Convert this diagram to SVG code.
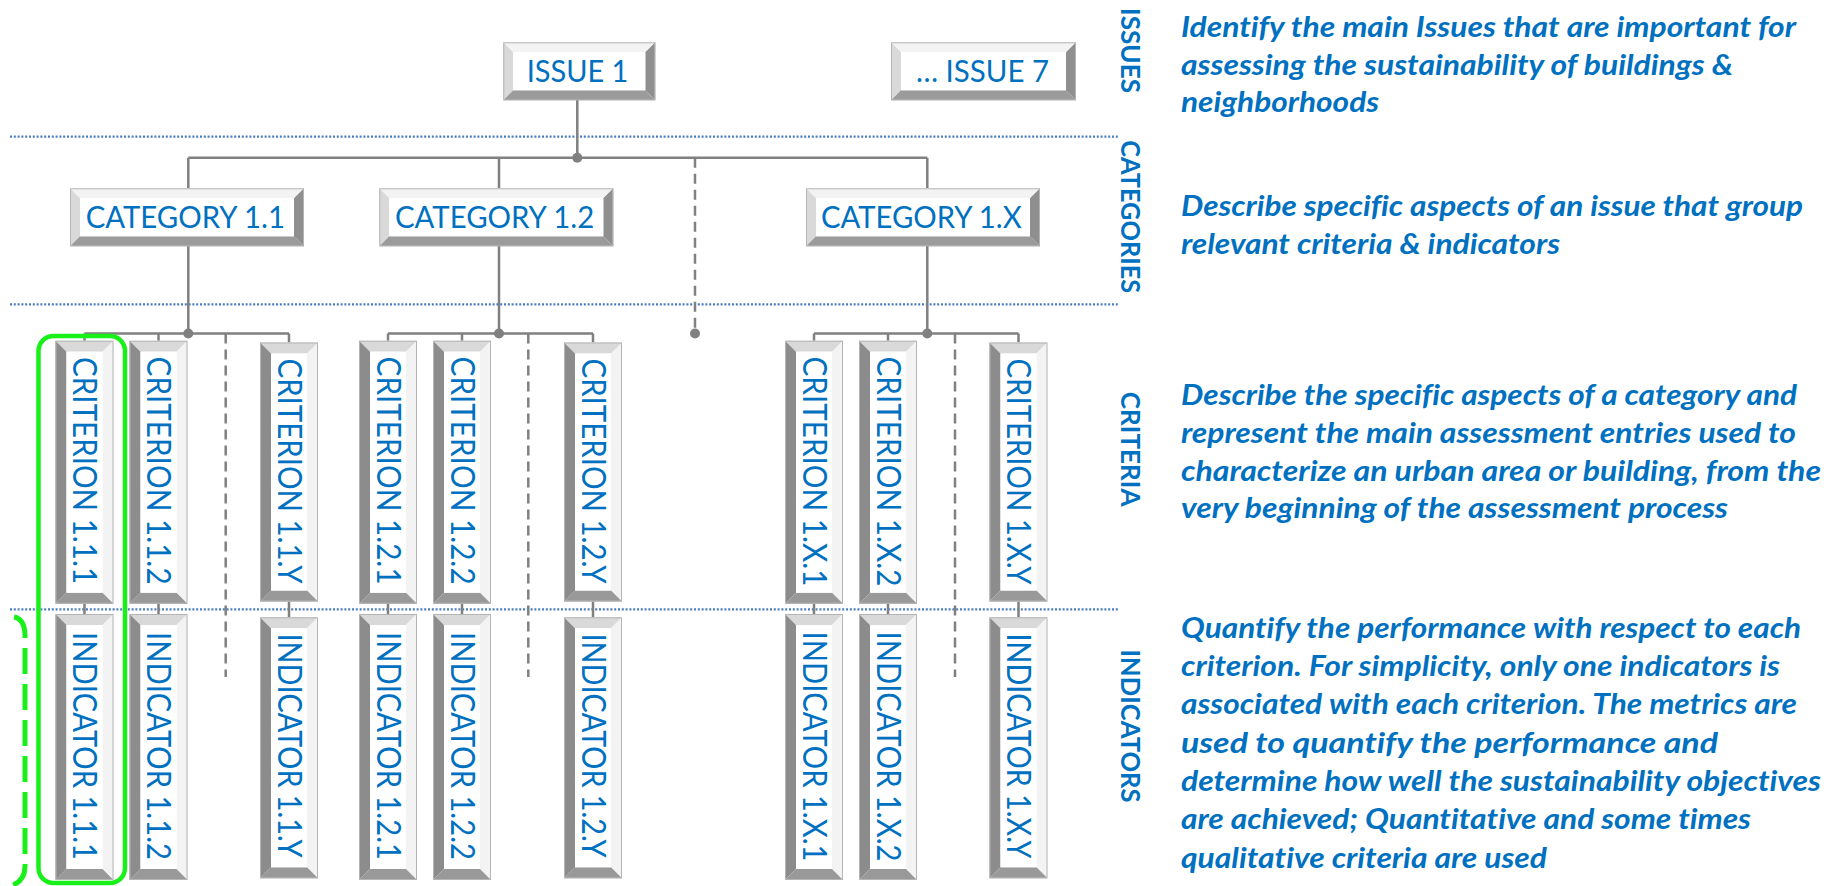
<svg xmlns="http://www.w3.org/2000/svg" width="1829" height="886" viewBox="0 0 1829 886">
<style>
text{font-variant-ligatures:none}
.bt{fill:#f3f3f3}.bl{fill:#d9d9d9}.br{fill:#8f8f8f}.bb{fill:#9b9b9b}.vl{fill:#8c8c8c}.vb{fill:#999999}
.in{fill:#ffffff}.ol{fill:none;stroke:#b4b4b4;stroke-width:1}
.lbl{font-family:Lato,"Liberation Sans",sans-serif;font-size:30.5px;fill:#0070C0;text-anchor:middle}
.vlbl{font-family:Lato,"Liberation Sans",sans-serif;font-size:32px;fill:#0070C0;text-anchor:middle}
.side{font-family:Lato,"Liberation Sans",sans-serif;font-weight:bold;font-size:27px;fill:#0070C0;text-anchor:middle}
.desc{font-family:Lato,"Liberation Sans",sans-serif;font-weight:bold;font-style:italic;font-size:28px;fill:#0070C0}
.sep{fill:none;stroke:#4a7cc4;stroke-width:2.3;stroke-dasharray:2 1.8}
.con{fill:none;stroke:#808080;stroke-width:2.5}
.dash{fill:none;stroke:#808080;stroke-width:2.5;stroke-dasharray:10 6}
.dot{fill:#808080}
</style>
<defs>
<g id="hI1">
<polygon class="bt" points="0,0 152,0 142,10 10,10"/><polygon class="bl" points="0,0 10,10 10,48 0,58"/>
<polygon class="br" points="152,0 152,58 142,48 142,10"/><polygon class="bb" points="0,58 10,48 142,48 152,58"/>
<rect class="in" x="10" y="10" width="132" height="38"/><rect class="ol" x="0.5" y="0.5" width="151" height="57"/>
</g>
<g id="hI7">
<polygon class="bt" points="0,0 185,0 175,10 10,10"/><polygon class="bl" points="0,0 10,10 10,48 0,58"/>
<polygon class="br" points="185,0 185,58 175,48 175,10"/><polygon class="bb" points="0,58 10,48 175,48 185,58"/>
<rect class="in" x="10" y="10" width="165" height="38"/><rect class="ol" x="0.5" y="0.5" width="184" height="57"/>
</g>
<g id="hCat">
<polygon class="bt" points="0,0 234,0 224,10 10,10"/><polygon class="bl" points="0,0 10,10 10,48 0,58"/>
<polygon class="br" points="234,0 234,58 224,48 224,10"/><polygon class="bb" points="0,58 10,48 224,48 234,58"/>
<rect class="in" x="10" y="10" width="214" height="38"/><rect class="ol" x="0.5" y="0.5" width="233" height="57"/>
</g>
<g id="vC">
<polygon class="bl" points="0,0 58,0 47,11 11,11"/><polygon class="vl" points="0,0 11,11 11,252 0,263"/>
<polygon class="bt" points="58,0 58,263 47,252 47,11"/><polygon class="vb" points="0,263 11,252 47,252 58,263"/>
<rect class="in" x="11" y="11" width="36" height="241"/><rect class="ol" x="0.5" y="0.5" width="57" height="262"/>
</g>
<g id="vCY">
<polygon class="bl" points="0,0 58,0 47,11 11,11"/><polygon class="vl" points="0,0 11,11 11,248 0,259"/>
<polygon class="bt" points="58,0 58,259 47,248 47,11"/><polygon class="vb" points="0,259 11,248 47,248 58,259"/>
<rect class="in" x="11" y="11" width="36" height="237"/><rect class="ol" x="0.5" y="0.5" width="57" height="258"/>
</g>
<g id="vI">
<polygon class="bl" points="0,0 58,0 47,11 11,11"/><polygon class="vl" points="0,0 11,11 11,255 0,266"/>
<polygon class="bt" points="58,0 58,266 47,255 47,11"/><polygon class="vb" points="0,266 11,255 47,255 58,266"/>
<rect class="in" x="11" y="11" width="36" height="244"/><rect class="ol" x="0.5" y="0.5" width="57" height="265"/>
</g>
<g id="vIY">
<polygon class="bl" points="0,0 58,0 47,11 11,11"/><polygon class="vl" points="0,0 11,11 11,250 0,261"/>
<polygon class="bt" points="58,0 58,261 47,250 47,11"/><polygon class="vb" points="0,261 11,250 47,250 58,261"/>
<rect class="in" x="11" y="11" width="36" height="239"/><rect class="ol" x="0.5" y="0.5" width="57" height="260"/>
</g>
</defs>
<rect width="1829" height="886" fill="#ffffff"/>

<g id="separators">
<line class="sep" x1="10" y1="136.7" x2="1118" y2="136.7"/>
<line class="sep" x1="10" y1="304.3" x2="1118" y2="304.3"/>
<line class="sep" x1="10" y1="609.3" x2="1118" y2="609.3"/>
</g>

<g id="connectors">
<path class="con" d="M577.3,100 V157.7 M188.3,157.7 H927.3 M188.3,157.7 V188 M499,157.7 V188 M927.3,157.7 V188"/>
<path class="con" d="M188.3,246 V333.5 M84.5,333.5 H289 M84.5,333.5 V340.7 M158.5,333.5 V340.7 M289,333.5 V342.5"/>
<path class="con" d="M499,246 V333.5 M388,333.5 H593 M388,333.5 V340.7 M462,333.5 V340.7 M593,333.5 V342.5"/>
<path class="con" d="M927.3,246 V333.5 M814,333.5 H1018.5 M814,333.5 V340.7 M888,333.5 V340.7 M1018.5,333.5 V342.5"/>
<path class="con" d="M84.5,603.7 V614 M158.5,603.7 V614 M289,601.5 V617.3 M388,603.7 V614 M462,603.7 V614 M593,601.5 V617.3 M814,603.7 V614 M888,603.7 V614 M1018.5,601.5 V617.3"/>
<path class="dash" d="M695,157.7 V333.5 M225.7,333.5 V677 M528.3,333.5 V677 M955,333.5 V677"/>
<circle class="dot" cx="577.3" cy="157.7" r="5"/>
<circle class="dot" cx="695" cy="333.5" r="5"/>
<circle class="dot" cx="188.3" cy="333.5" r="5"/>
<circle class="dot" cx="499" cy="333.5" r="5"/>
<circle class="dot" cx="927.3" cy="333.5" r="5"/>
</g>

<g id="issue-1"><use href="#hI1" x="503.3" y="42.3"/><text class="lbl" x="577.5" y="82.3" textLength="101.6" lengthAdjust="spacingAndGlyphs">ISSUE 1</text></g>
<g id="issue-7"><use href="#hI7" x="891" y="42.3"/><text class="lbl" x="982.5" y="82.3" textLength="133" lengthAdjust="spacingAndGlyphs">… ISSUE 7</text></g>

<g id="category-1-1"><use href="#hCat" x="70" y="188.3"/><text class="lbl" x="185.3" y="228.3" textLength="199.3" lengthAdjust="spacingAndGlyphs">CATEGORY 1.1</text></g>
<g id="category-1-2"><use href="#hCat" x="379.3" y="188.3"/><text class="lbl" x="494.6" y="228.3" textLength="199.3" lengthAdjust="spacingAndGlyphs">CATEGORY 1.2</text></g>
<g id="category-1-x"><use href="#hCat" x="806" y="188.3"/><text class="lbl" x="921.3" y="228.3" textLength="200.7" lengthAdjust="spacingAndGlyphs">CATEGORY 1.X</text></g>

<g id="criterion-1-1-1"><use href="#vC" x="55.5" y="340.7"/><text class="vlbl" transform="translate(84.5,470.6) rotate(90)" y="11.5" textLength="227" lengthAdjust="spacingAndGlyphs">CRITERION 1.1.1</text></g>
<g id="criterion-1-1-2"><use href="#vC" x="129.5" y="340.7"/><text class="vlbl" transform="translate(158.5,470.6) rotate(90)" y="11.5" textLength="228" lengthAdjust="spacingAndGlyphs">CRITERION 1.1.2</text></g>
<g id="criterion-1-1-y"><use href="#vCY" x="260" y="342.5"/><text class="vlbl" transform="translate(289,471) rotate(90)" y="11.5" textLength="225" lengthAdjust="spacingAndGlyphs">CRITERION 1.1.Y</text></g>
<g id="criterion-1-2-1"><use href="#vC" x="359" y="340.7"/><text class="vlbl" transform="translate(388,470.6) rotate(90)" y="11.5" textLength="228" lengthAdjust="spacingAndGlyphs">CRITERION 1.2.1</text></g>
<g id="criterion-1-2-2"><use href="#vC" x="433" y="340.7"/><text class="vlbl" transform="translate(462,470.6) rotate(90)" y="11.5" textLength="228" lengthAdjust="spacingAndGlyphs">CRITERION 1.2.2</text></g>
<g id="criterion-1-2-y"><use href="#vCY" x="564" y="342.5"/><text class="vlbl" transform="translate(593,471) rotate(90)" y="11.5" textLength="225" lengthAdjust="spacingAndGlyphs">CRITERION 1.2.Y</text></g>
<g id="criterion-1-x-1"><use href="#vC" x="785" y="340.7"/><text class="vlbl" transform="translate(814,471.5) rotate(90)" y="11.5" textLength="230" lengthAdjust="spacingAndGlyphs">CRITERION 1.X.1</text></g>
<g id="criterion-1-x-2"><use href="#vC" x="859" y="340.7"/><text class="vlbl" transform="translate(888,471.5) rotate(90)" y="11.5" textLength="230" lengthAdjust="spacingAndGlyphs">CRITERION 1.X.2</text></g>
<g id="criterion-1-x-y"><use href="#vCY" x="989.5" y="342.5"/><text class="vlbl" transform="translate(1018.5,471.5) rotate(90)" y="11.5" textLength="226" lengthAdjust="spacingAndGlyphs">CRITERION 1.X.Y</text></g>

<g id="indicator-1-1-1"><use href="#vI" x="55.5" y="614"/><text class="vlbl" transform="translate(84.5,746) rotate(90)" y="11.5" textLength="228" lengthAdjust="spacingAndGlyphs">INDICATOR 1.1.1</text></g>
<g id="indicator-1-1-2"><use href="#vI" x="129.5" y="614"/><text class="vlbl" transform="translate(158.5,746) rotate(90)" y="11.5" textLength="228" lengthAdjust="spacingAndGlyphs">INDICATOR 1.1.2</text></g>
<g id="indicator-1-1-y"><use href="#vIY" x="260" y="617.3"/><text class="vlbl" transform="translate(289,745.5) rotate(90)" y="11.5" textLength="224" lengthAdjust="spacingAndGlyphs">INDICATOR 1.1.Y</text></g>
<g id="indicator-1-2-1"><use href="#vI" x="359" y="614"/><text class="vlbl" transform="translate(388,746) rotate(90)" y="11.5" textLength="228" lengthAdjust="spacingAndGlyphs">INDICATOR 1.2.1</text></g>
<g id="indicator-1-2-2"><use href="#vI" x="433" y="614"/><text class="vlbl" transform="translate(462,746) rotate(90)" y="11.5" textLength="228" lengthAdjust="spacingAndGlyphs">INDICATOR 1.2.2</text></g>
<g id="indicator-1-2-y"><use href="#vIY" x="564" y="617.3"/><text class="vlbl" transform="translate(593,745.5) rotate(90)" y="11.5" textLength="224" lengthAdjust="spacingAndGlyphs">INDICATOR 1.2.Y</text></g>
<g id="indicator-1-x-1"><use href="#vI" x="785" y="614"/><text class="vlbl" transform="translate(814,746.5) rotate(90)" y="11.5" textLength="230" lengthAdjust="spacingAndGlyphs">INDICATOR 1.X.1</text></g>
<g id="indicator-1-x-2"><use href="#vI" x="859" y="614"/><text class="vlbl" transform="translate(888,746.5) rotate(90)" y="11.5" textLength="230" lengthAdjust="spacingAndGlyphs">INDICATOR 1.X.2</text></g>
<g id="indicator-1-x-y"><use href="#vIY" x="989.5" y="617.3"/><text class="vlbl" transform="translate(1018.5,746) rotate(90)" y="11.5" textLength="225" lengthAdjust="spacingAndGlyphs">INDICATOR 1.X.Y</text></g>

<g id="highlight">
<rect x="38.5" y="336" width="86.5" height="547" rx="15" fill="none" stroke="#19f019" stroke-width="4.5"/>
<path d="M14,617 Q25,619 25,636 V866 Q25,882 10,886" fill="none" stroke="#19f019" stroke-width="5" stroke-dasharray="26 10"/>
</g>

<g id="level-labels">
<text class="side" transform="translate(1131,50.5) rotate(90)" y="9.7" textLength="85" lengthAdjust="spacingAndGlyphs">ISSUES</text>
<text class="side" transform="translate(1131,216.7) rotate(90)" y="9.7" textLength="153" lengthAdjust="spacingAndGlyphs">CATEGORIES</text>
<text class="side" transform="translate(1131,449.2) rotate(90)" y="9.7" textLength="115" lengthAdjust="spacingAndGlyphs">CRITERIA</text>
<text class="side" transform="translate(1131,726) rotate(90)" y="9.7" textLength="153" lengthAdjust="spacingAndGlyphs">INDICATORS</text>
</g>

<g id="descriptions">
<text class="desc" x="1181" y="36.7" textLength="615" lengthAdjust="spacingAndGlyphs">Identify the main Issues that are important for</text>
<text class="desc" x="1181" y="74.5" textLength="552" lengthAdjust="spacingAndGlyphs">assessing the sustainability of buildings &amp;</text>
<text class="desc" x="1181" y="112.3" textLength="198" lengthAdjust="spacingAndGlyphs">neighborhoods</text>
<text class="desc" x="1181" y="216" textLength="622" lengthAdjust="spacingAndGlyphs">Describe specific aspects of an issue that group</text>
<text class="desc" x="1181" y="253.8" textLength="379" lengthAdjust="spacingAndGlyphs">relevant criteria &amp; indicators</text>
<text class="desc" x="1181" y="405" textLength="616" lengthAdjust="spacingAndGlyphs">Describe the specific aspects of a category and</text>
<text class="desc" x="1181" y="442.8" textLength="615" lengthAdjust="spacingAndGlyphs">represent the main assessment entries used to</text>
<text class="desc" x="1181" y="480.6" textLength="640" lengthAdjust="spacingAndGlyphs">characterize an urban area or building, from the</text>
<text class="desc" x="1181" y="518.4" textLength="547" lengthAdjust="spacingAndGlyphs">very beginning of the assessment process</text>
<text class="desc" x="1181" y="637.7" textLength="620" lengthAdjust="spacingAndGlyphs">Quantify the performance with respect to each</text>
<text class="desc" x="1181" y="676" textLength="599" lengthAdjust="spacingAndGlyphs">criterion. For simplicity, only one indicators is</text>
<text class="desc" x="1181" y="714.3" textLength="616" lengthAdjust="spacingAndGlyphs">associated with each criterion. The metrics are</text>
<text class="desc" x="1181" y="752.6" textLength="537" lengthAdjust="spacingAndGlyphs">used to quantify the performance and</text>
<text class="desc" x="1181" y="790.9" textLength="640" lengthAdjust="spacingAndGlyphs">determine how well the sustainability objectives</text>
<text class="desc" x="1181" y="829.2" textLength="570" lengthAdjust="spacingAndGlyphs">are achieved; Quantitative and some times</text>
<text class="desc" x="1181" y="867.5" textLength="366" lengthAdjust="spacingAndGlyphs">qualitative criteria are used</text>
</g>
</svg>
